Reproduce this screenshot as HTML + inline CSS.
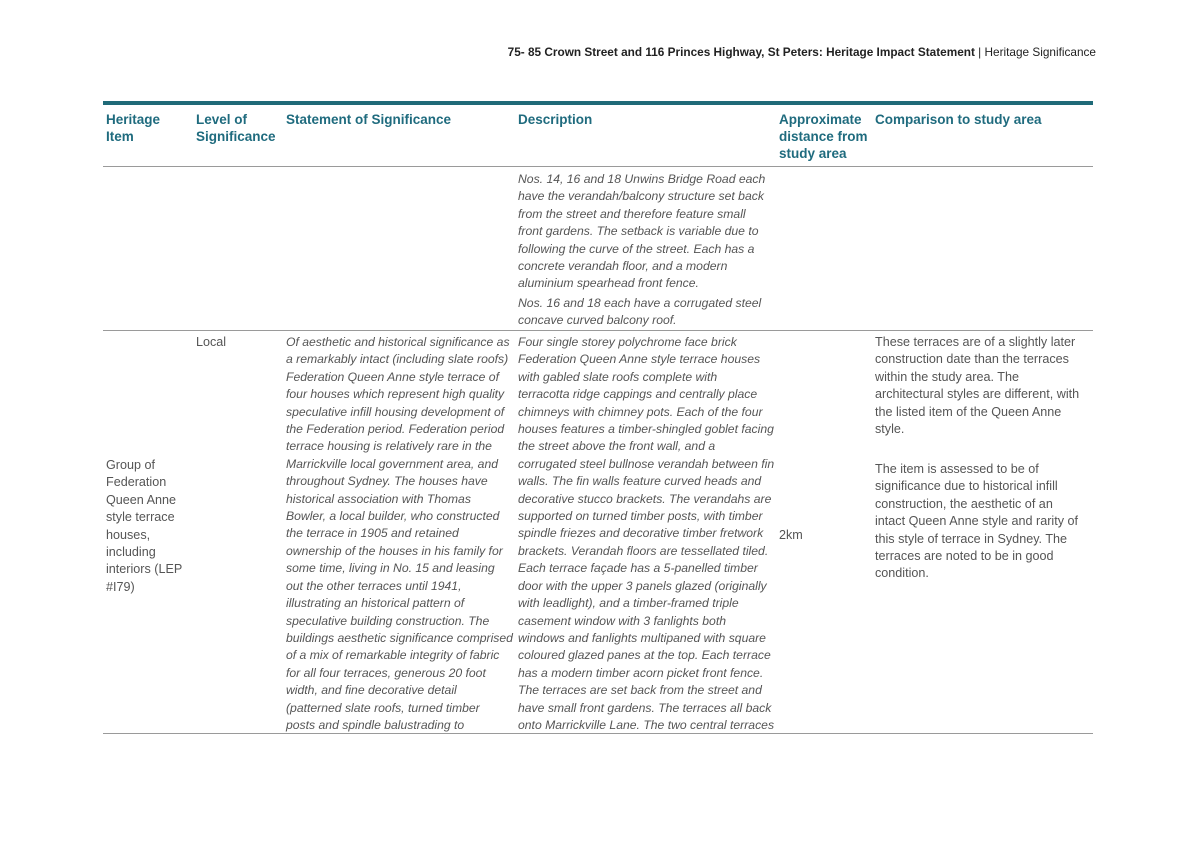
<!DOCTYPE html>
<html><head><meta charset="utf-8"><style>
body{margin:0;width:1194px;height:844px;background:#fff;position:relative;font-family:"Liberation Sans",sans-serif;overflow:hidden}
.a{position:absolute;white-space:nowrap}
.h{font-weight:bold;color:#1f6b7e;font-size:13.5px;line-height:17px}
.t{color:#555;font-size:12.6px;line-height:17.4px}
.i{font-style:italic;font-size:12.2px}
.ln{position:absolute;height:1px;background:#9a9a9a}
</style></head><body>
<div class="a" style="right:98px;top:45px;font-size:11.8px;color:#222"><b>75- 85 Crown Street and 116 Princes Highway, St Peters: Heritage Impact Statement</b> | Heritage Significance</div>
<div style="position:absolute;left:103px;top:101px;width:990px;height:4px;background:#1f6a78"></div>
<div class="a h" style="left:106px;top:111px">Heritage<br>Item</div>
<div class="a h" style="left:196px;top:111px">Level of<br>Significance</div>
<div class="a h" style="left:286px;top:111px">Statement of Significance</div>
<div class="a h" style="left:518px;top:111px">Description</div>
<div class="a h" style="left:779px;top:111px">Approximate<br>distance from<br>study area</div>
<div class="a h" style="left:875px;top:111px">Comparison to study area</div>
<div class="ln" style="left:103px;top:166px;width:990px"></div>
<div class="a t i" style="left:518px;top:171px">Nos. 14, 16 and 18 Unwins Bridge Road each<br>have the verandah/balcony structure set back<br>from the street and therefore feature small<br>front gardens. The setback is variable due to<br>following the curve of the street. Each has a<br>concrete verandah floor, and a modern<br>aluminium spearhead front fence.</div>
<div class="a t i" style="left:518px;top:295px">Nos. 16 and 18 each have a corrugated steel<br>concave curved balcony roof.</div>
<div class="ln" style="left:103px;top:330px;width:990px"></div>
<div class="a t" style="left:196px;top:334px">Local</div>
<div class="a t" style="left:106px;top:457px">Group of<br>Federation<br>Queen Anne<br>style terrace<br>houses,<br>including<br>interiors (LEP<br>#I79)</div>
<div class="a t i" style="left:286px;top:334px">Of aesthetic and historical significance as<br>a remarkably intact (including slate roofs)<br>Federation Queen Anne style terrace of<br>four houses which represent high quality<br>speculative infill housing development of<br>the Federation period. Federation period<br>terrace housing is relatively rare in the<br>Marrickville local government area, and<br>throughout Sydney. The houses have<br>historical association with Thomas<br>Bowler, a local builder, who constructed<br>the terrace in 1905 and retained<br>ownership of the houses in his family for<br>some time, living in No. 15 and leasing<br>out the other terraces until 1941,<br>illustrating an historical pattern of<br>speculative building construction. The<br>buildings aesthetic significance comprised<br>of a mix of remarkable integrity of fabric<br>for all four terraces, generous 20 foot<br>width, and fine decorative detail<br>(patterned slate roofs, turned timber<br>posts and spindle balustrading to</div>
<div class="a t i" style="left:518px;top:334px">Four single storey polychrome face brick<br>Federation Queen Anne style terrace houses<br>with gabled slate roofs complete with<br>terracotta ridge cappings  and centrally place<br>chimneys with chimney pots. Each of the four<br>houses features a timber-shingled goblet facing<br>the street above the front wall, and a<br>corrugated steel bullnose verandah between fin<br>walls. The fin walls feature curved heads and<br>decorative stucco brackets. The verandahs are<br>supported on turned timber posts, with timber<br>spindle friezes and decorative timber fretwork<br>brackets. Verandah floors are tessellated tiled.<br>Each terrace façade has a 5-panelled timber<br>door with the upper 3 panels glazed (originally<br>with leadlight), and a timber-framed triple<br>casement window with 3 fanlights both<br>windows and fanlights multipaned with square<br>coloured glazed panes at the top. Each terrace<br>has a modern timber acorn picket front fence.<br>The terraces are set back from the street and<br>have small front gardens. The terraces all back<br>onto Marrickville Lane. The two central terraces</div>
<div class="a t" style="left:779px;top:527px">2km</div>
<div class="a t" style="left:875px;top:334px">These terraces are of a slightly later<br>construction date than the terraces<br>within the study area. The<br>architectural styles are different, with<br>the listed item of the Queen Anne<br>style.</div>
<div class="a t" style="left:875px;top:461px">The item is assessed to be of<br>significance due to historical infill<br>construction, the aesthetic of an<br>intact Queen Anne style and rarity of<br>this style of terrace in Sydney. The<br>terraces are noted to be in good<br>condition.</div>
<div class="ln" style="left:103px;top:733px;width:990px"></div>
</body></html>
